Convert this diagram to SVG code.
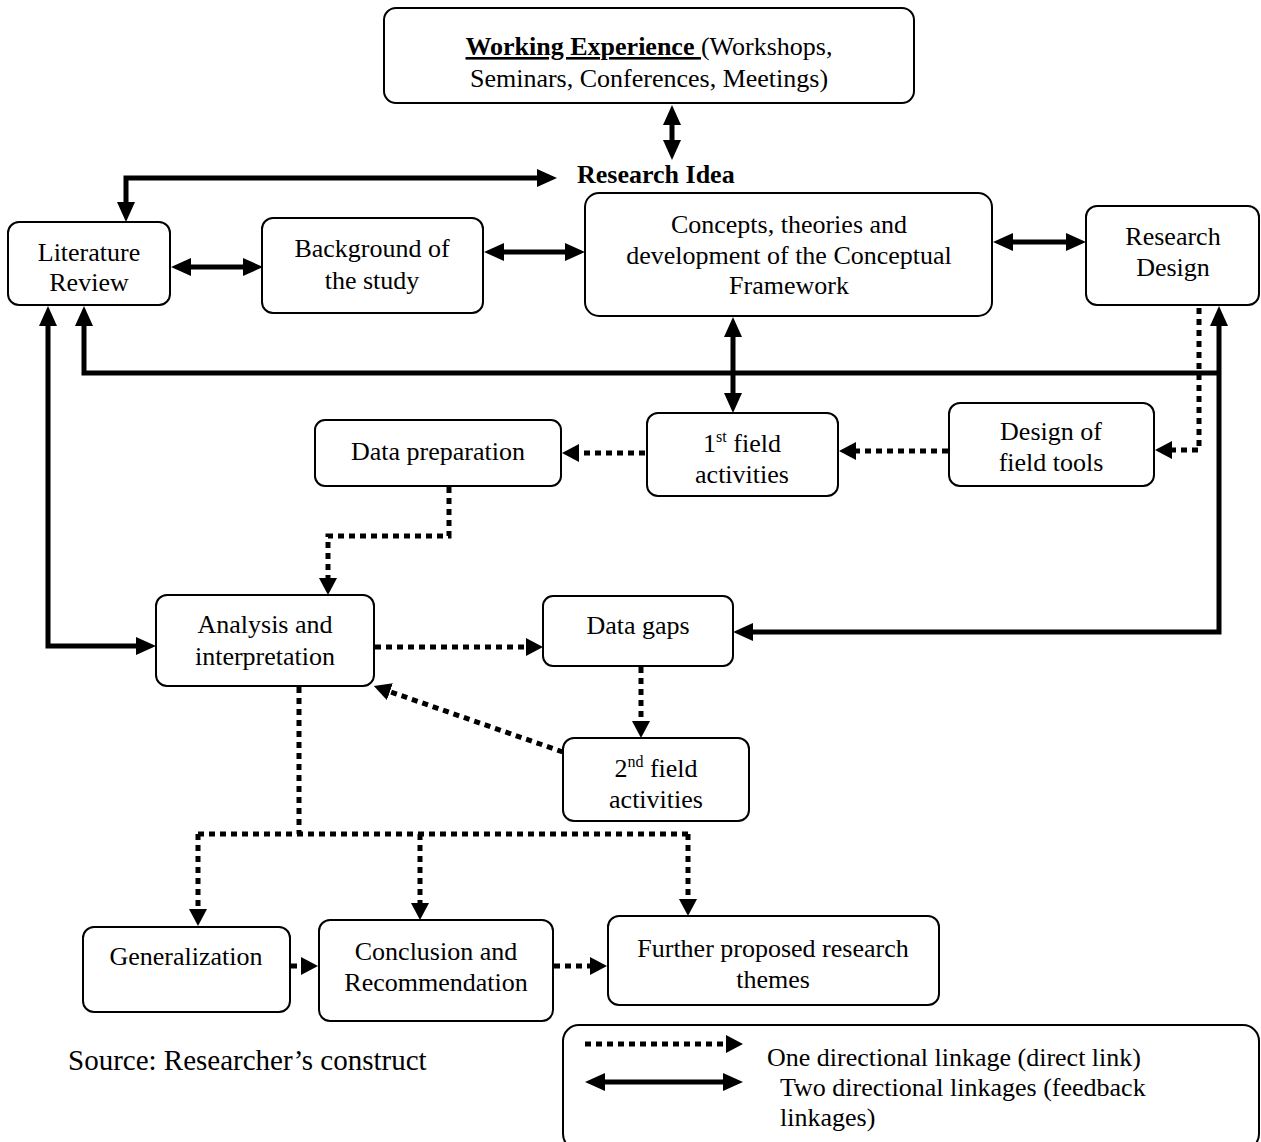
<svg xmlns="http://www.w3.org/2000/svg" width="1261" height="1142" viewBox="0 0 1261 1142">
  <style>
    .box { fill: #ffffff; stroke: #000000; stroke-width: 2; }
    .lbl { font-family: "Liberation Serif", "Times New Roman", serif; font-size: 26px; fill: #000000; text-anchor: middle; }
    .lft { text-anchor: start; }
    .b { font-weight: bold; }
    .sup { font-size: 16px; }
    .big { font-size: 29px; }
    .solid { fill: none; stroke: #000000; stroke-width: 5; marker-end: url(#head); }
    .both { marker-start: url(#head); }
    .dot { fill: none; stroke: #000000; stroke-width: 5; stroke-dasharray: 6 5; marker-end: url(#dhead); }
    .plain { marker-end: none; }
  </style>
  <defs>
    <marker id="head" markerUnits="userSpaceOnUse" markerWidth="20" markerHeight="18" viewBox="0 0 20 18" refX="3" refY="9" orient="auto-start-reverse">
      <path d="M0,0 L20,9 L0,18 z" fill="#000000"/>
    </marker>
    <marker id="dhead" markerUnits="userSpaceOnUse" markerWidth="17" markerHeight="18" viewBox="0 0 17 18" refX="2" refY="9" orient="auto">
      <path d="M0,0 L17,9 L0,18 z" fill="#000000"/>
    </marker>
  </defs>

  <rect width="1261" height="1142" fill="#ffffff"/>

  <!-- connectors -->
  <g id="connectors">
    <!-- two directional (feedback) links -->
    <path class="solid both" d="M672,122 L672,143"/>
    <path class="solid both" d="M540,178 L126,178 L126,205"/>
    <path class="solid both" d="M188,267 L246,267"/>
    <path class="solid both" d="M501,252 L568,252"/>
    <path class="solid both" d="M1010,242 L1069,242"/>
    <path class="solid both" d="M733,334 L733,396"/>
    <path class="solid both" d="M48,323 L48,646 L139,646"/>
    <path class="solid both" d="M750,632 L1219,632 L1219,323"/>
    <path class="solid" d="M1219,373 L84,373 L84,323"/>

    <!-- one directional (direct) links -->
    <path class="dot" d="M1199,308 L1199,450 L1170,450"/>
    <path class="dot" d="M948,451 L854,451"/>
    <path class="dot" d="M645,453 L577,453"/>
    <path class="dot" d="M449,487 L449,536 L328,536 L328,580"/>
    <path class="dot" d="M375,647 L528,647"/>
    <path class="dot" d="M641,667 L641,723"/>
    <path class="dot" d="M563,752 L388,691"/>
    <path class="dot plain" d="M299,687 L299,834"/>
    <path class="dot plain" d="M198,834 L688,834"/>
    <path class="dot" d="M198,834 L198,911"/>
    <path class="dot" d="M420,834 L420,905"/>
    <path class="dot" d="M688,834 L688,901"/>
    <path class="dot" d="M291,966 L303,966"/>
    <path class="dot" d="M554,966 L592,966"/>
  </g>

  <!-- nodes -->
  <g id="working-experience">
    <rect class="box" x="384" y="8" width="530" height="95" rx="12"/>
    <text class="lbl" x="649" y="55"><tspan class="b" text-decoration="underline">Working Experience </tspan>(Workshops,</text>
    <text class="lbl" x="649" y="87">Seminars, Conferences, Meetings)</text>
  </g>

  <g id="research-idea">
    <text class="lbl lft b" x="577" y="183">Research Idea</text>
  </g>

  <g id="literature-review">
    <rect class="box" x="8" y="222" width="162" height="83" rx="11"/>
    <text class="lbl" x="89" y="261">Literature</text>
    <text class="lbl" x="89" y="291">Review</text>
  </g>

  <g id="background">
    <rect class="box" x="262" y="218" width="221" height="95" rx="11"/>
    <text class="lbl" x="372" y="257">Background of</text>
    <text class="lbl" x="372" y="289">the study</text>
  </g>

  <g id="concepts">
    <rect class="box" x="585" y="193" width="407" height="123" rx="14"/>
    <text class="lbl" x="789" y="233">Concepts, theories and</text>
    <text class="lbl" x="789" y="264">development of the Conceptual</text>
    <text class="lbl" x="789" y="294">Framework</text>
  </g>

  <g id="research-design">
    <rect class="box" x="1086" y="206" width="173" height="99" rx="11"/>
    <text class="lbl" x="1173" y="245">Research</text>
    <text class="lbl" x="1173" y="276">Design</text>
  </g>

  <g id="first-field">
    <rect class="box" x="647" y="413" width="191" height="83" rx="11"/>
    <text class="lbl" x="742" y="452">1<tspan class="sup" dy="-10">st</tspan><tspan dy="10"> field</tspan></text>
    <text class="lbl" x="742" y="483">activities</text>
  </g>

  <g id="field-tools">
    <rect class="box" x="949" y="403" width="205" height="83" rx="11"/>
    <text class="lbl" x="1051" y="440">Design of</text>
    <text class="lbl" x="1051" y="471">field tools</text>
  </g>

  <g id="data-preparation">
    <rect class="box" x="315" y="420" width="246" height="66" rx="10"/>
    <text class="lbl" x="438" y="460">Data preparation</text>
  </g>

  <g id="analysis">
    <rect class="box" x="156" y="595" width="218" height="91" rx="11"/>
    <text class="lbl" x="265" y="633">Analysis and</text>
    <text class="lbl" x="265" y="665">interpretation</text>
  </g>

  <g id="data-gaps">
    <rect class="box" x="543" y="596" width="190" height="70" rx="10"/>
    <text class="lbl" x="638" y="634">Data gaps</text>
  </g>

  <g id="second-field">
    <rect class="box" x="563" y="738" width="186" height="83" rx="11"/>
    <text class="lbl" x="656" y="777">2<tspan class="sup" dy="-10">nd</tspan><tspan dy="10"> field</tspan></text>
    <text class="lbl" x="656" y="808">activities</text>
  </g>

  <g id="generalization">
    <rect class="box" x="83" y="927" width="207" height="85" rx="11"/>
    <text class="lbl" x="186" y="965">Generalization</text>
  </g>

  <g id="conclusion">
    <rect class="box" x="319" y="920" width="234" height="101" rx="11"/>
    <text class="lbl" x="436" y="960">Conclusion and</text>
    <text class="lbl" x="436" y="991">Recommendation</text>
  </g>

  <g id="further-themes">
    <rect class="box" x="608" y="916" width="331" height="89" rx="11"/>
    <text class="lbl" x="773" y="957">Further proposed research</text>
    <text class="lbl" x="773" y="988">themes</text>
  </g>

  <g id="source">
    <text class="lbl lft big" x="68" y="1070">Source: Researcher’s construct</text>
  </g>

  <g id="legend">
    <rect class="box" x="563" y="1025" width="696" height="125" rx="16"/>
    <path class="dot" d="M585,1044 L728,1044"/>
    <path class="solid both" d="M602,1082 L726,1082"/>
    <text class="lbl lft" x="767" y="1066">One directional linkage (direct link)</text>
    <text class="lbl lft" x="780" y="1096">Two directional linkages (feedback</text>
    <text class="lbl lft" x="780" y="1126">linkages)</text>
  </g>
</svg>
